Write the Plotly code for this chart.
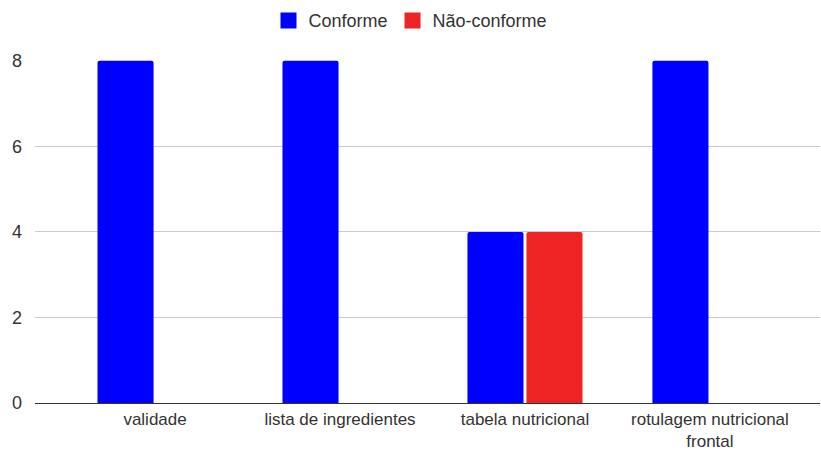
import plotly.graph_objects as go

categorias = ["validade", "lista de ingredientes", "tabela nutricional", "rotulagem nutricional<br>frontal"]
conforme = [8, 8, 4, 8]
nao_conforme = [0, 0, 4, 0]
y_ticks = [0, 2, 4, 6, 8]

series = [
    ("Conforme", conforme, "#0000ff"),
    ("Não-conforme", nao_conforme, "#ee2424"),
]

x_pos = list(range(len(categorias)))

fig = go.Figure()
for nome, valores, cor in series:
    fig.add_trace(go.Bar(x=x_pos, y=valores, name=nome, legendgroup=nome,
                         showlegend=False,
                         marker=dict(color=cor, line=dict(width=0))))
# larger square swatches for the legend
for nome, valores, cor in series:
    fig.add_trace(go.Scatter(x=[None], y=[None], mode="markers", name=nome,
                             legendgroup=nome,
                             marker=dict(symbol="square", size=16, color=cor)))

fig.update_layout(
    width=821, height=450,
    margin=dict(l=35, r=1, t=60, b=47),
    paper_bgcolor="white", plot_bgcolor="white",
    font=dict(family="Liberation Sans, Arial, sans-serif", size=18, color="#333333"),
    barmode="group", bargap=0.362, bargroupgap=0.05,
    barcornerradius=2,
    showlegend=True,
    legend=dict(orientation="h", x=0.5, xanchor="center", xref="container",
                y=0.995, yanchor="top", yref="container",
                font=dict(size=18, color="#333333"),
                itemwidth=30, traceorder="normal", itemsizing="trace"),
    xaxis=dict(tickmode="array", tickvals=x_pos, ticktext=categorias,
               range=[-0.649, 3.595], showgrid=False, zeroline=False,
               showline=True, linecolor="#333333", linewidth=1.2,
               tickfont=dict(size=17),
               ticks="", ticklabelstandoff=0, automargin=False),
    yaxis=dict(range=[0, 8.02], tickvals=y_ticks, showgrid=True,
               gridcolor="#cccccc", gridwidth=1, zeroline=False,
               ticks="", ticklabelstandoff=12, automargin=False),
)

fig.write_html("out.html")
